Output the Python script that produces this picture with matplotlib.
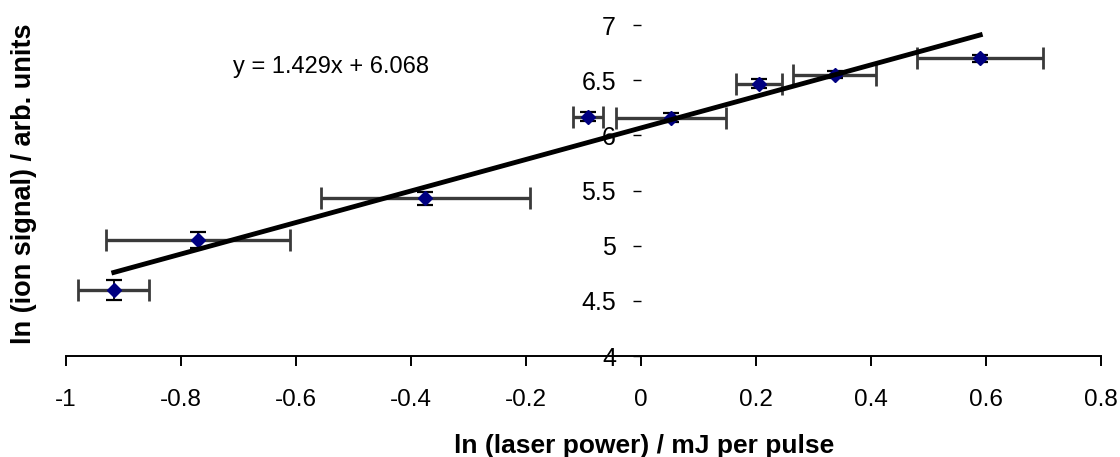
import matplotlib
matplotlib.use('Agg')
import numpy as np
import matplotlib.pyplot as plt

plt.rcParams['font.family'] = ['Liberation Sans', 'DejaVu Sans']

# - data
ln_power = [-0.917, -0.770, -0.375, -0.092, 0.052, 0.205, 0.337, 0.590]
ln_signal = [4.60, 5.05, 5.43, 6.17, 6.16, 6.47, 6.55, 6.70]
x_err = [0.062, 0.160, 0.182, 0.026, 0.095, 0.040, 0.072, 0.110]
y_err = [0.09, 0.07, 0.06, 0.04, 0.04, 0.04, 0.03, 0.03]

# - linear trendline
slope = 1.429
intercept = 6.068
fit_label = 'y = 1.429x + 6.068'

x_ticks = [-1, -0.8, -0.6, -0.4, -0.2, 0, 0.2, 0.4, 0.6, 0.8]
x_tick_labels = ['-1', '-0.8', '-0.6', '-0.4', '-0.2', '0', '0.2', '0.4',
                 '0.6', '0.8']
y_ticks = [4, 4.5, 5, 5.5, 6, 6.5, 7]
y_tick_labels = ['4', '4.5', '5', '5.5', '6', '6.5', '7']


def main():
    fig = plt.figure(figsize=(11.2, 4.57), dpi=100)
    ax = fig.add_axes([0.059, 0.221, 0.924, 0.724])

    x = np.array(ln_power)
    # - horizontal error bars
    ax.errorbar(x, ln_signal, xerr=x_err, fmt='none', ecolor='#3a3a3a',
                elinewidth=2.4, capsize=8, capthick=2, zorder=2)
    # - vertical error bars
    ax.errorbar(x, ln_signal, yerr=y_err, fmt='none', ecolor='black',
                elinewidth=1.3, capsize=6, capthick=1.6, zorder=2)
    ax.plot(x, ln_signal, linestyle='none', marker='D', markersize=7.5,
            color='#000080', zorder=3)

    # - trendline over the data range
    x_fit = np.array([x.min(), x.max()])
    ax.plot(x_fit, slope * x_fit + intercept, color='black', linewidth=3.5,
            zorder=4, clip_on=False)
    ax.text(-0.71, 6.62, fit_label, fontsize=17, ha='left', va='center')

    ax.set_xlim(-1, 0.8)
    ax.set_ylim(4, 7)

    # - excel style axes: y axis crossing at x = 0, no visible y spine
    ax.spines['top'].set_visible(False)
    ax.spines['right'].set_visible(False)
    ax.spines['left'].set_position(('data', 0))
    ax.spines['left'].set_color('none')
    ax.spines['bottom'].set_linewidth(1.4)

    ax.set_xticks(x_ticks)
    ax.set_xticklabels(x_tick_labels)
    ax.set_yticks(y_ticks)
    ax.set_yticklabels(y_tick_labels)
    ax.tick_params(axis='x', direction='out', length=7, width=1.4,
                   labelsize=17.5, pad=17)
    ax.tick_params(axis='y', direction='out', length=6, width=1.0,
                   color='black', labelsize=18, pad=12)

    fig.text(0.575, 0.008, 'ln (laser power) / mJ per pulse', fontsize=19,
             weight='bold', ha='center', va='baseline')
    fig.text(0.021, 0.597, 'ln (ion signal) / arb. units', fontsize=19.5,
             weight='bold', ha='center', va='center', rotation=90)

    plt.savefig('out.png', dpi=100)
    plt.close()


if __name__ == '__main__':
    main()
